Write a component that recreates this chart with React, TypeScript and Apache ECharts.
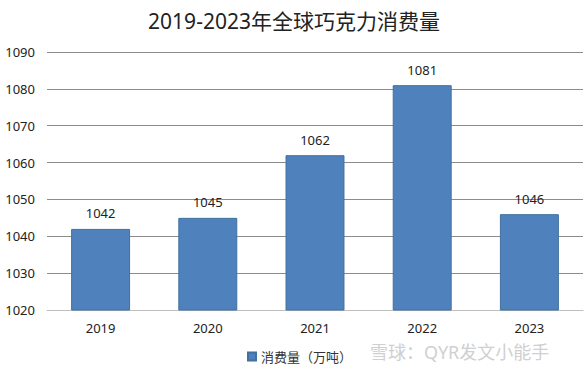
import React, { useEffect, useRef } from "react";
import * as echarts from "echarts";

const categories = ["2019", "2020", "2021", "2022", "2023"];
const consumption = [1042, 1045, 1062, 1081, 1046];
const seriesName = "消费量（万吨）";
const titleText = "2019-2023年全球巧克力消费量";
const watermark = "雪球：QYR发文小能手";

const FONT = '"Noto Sans", "Noto Sans CJK SC", sans-serif';

export default function App() {
  const ref = useRef<HTMLDivElement>(null);
  useEffect(() => {
    if (!ref.current) return;
    const chart = echarts.init(ref.current, undefined, { renderer: "svg" });
    chart.setOption({
      animation: false,
      backgroundColor: "#ffffff",
      textStyle: { fontFamily: FONT },
      title: {
        text: titleText,
        left: "center",
        top: 5,
        textStyle: { fontSize: 21, fontWeight: "normal", color: "#222", fontFamily: FONT },
      },
      legend: {
        data: [seriesName],
        left: 242,
        top: 345,
        icon: "rect",
        itemWidth: 8,
        itemHeight: 8,
        itemGap: 4,
        textStyle: { fontSize: 13, color: "#333", fontFamily: FONT },
      },
      grid: { left: 47, right: 5, top: 52, bottom: 63, containLabel: false },
      xAxis: {
        type: "category",
        data: categories,
        axisLine: { lineStyle: { color: "#bfbfbf", width: 1 } },
        axisTick: { show: false },
        axisLabel: { fontSize: 13, color: "#222", margin: 11, fontFamily: FONT },
      },
      yAxis: {
        type: "value",
        min: 1020,
        max: 1090,
        interval: 10,
        axisLine: { show: false },
        axisTick: { show: false },
        axisLabel: {
          fontSize: 13,
          color: "#222",
          margin: 12,
          fontFamily: FONT,
          align: "right",
          formatter: (v: number) => String(v),
        },
        splitLine: { lineStyle: { color: "#8c8c8c", width: 1 } },
      },
      series: [
        {
          name: seriesName,
          type: "bar",
          data: consumption,
          barWidth: "55%",
          itemStyle: { color: "#4f81bd", borderColor: "#41719c", borderWidth: 1 },
          label: {
            show: true,
            position: "top",
            distance: 9,
            fontSize: 13,
            color: "#222",
            fontFamily: FONT,
          },
        },
      ],
      graphic: [
        {
          type: "text",
          left: 370,
          top: 343,
          style: {
            text: watermark,
            fontSize: 18,
            fill: "#d0d0d0",
            fontFamily: FONT,
          },
        },
      ],
    });
    return () => chart.dispose();
  }, []);
  return (
    <div
      ref={ref}
      style={{ position: "fixed", left: 0, top: 0, width: 588, height: 373 }}
    />
  );
}
